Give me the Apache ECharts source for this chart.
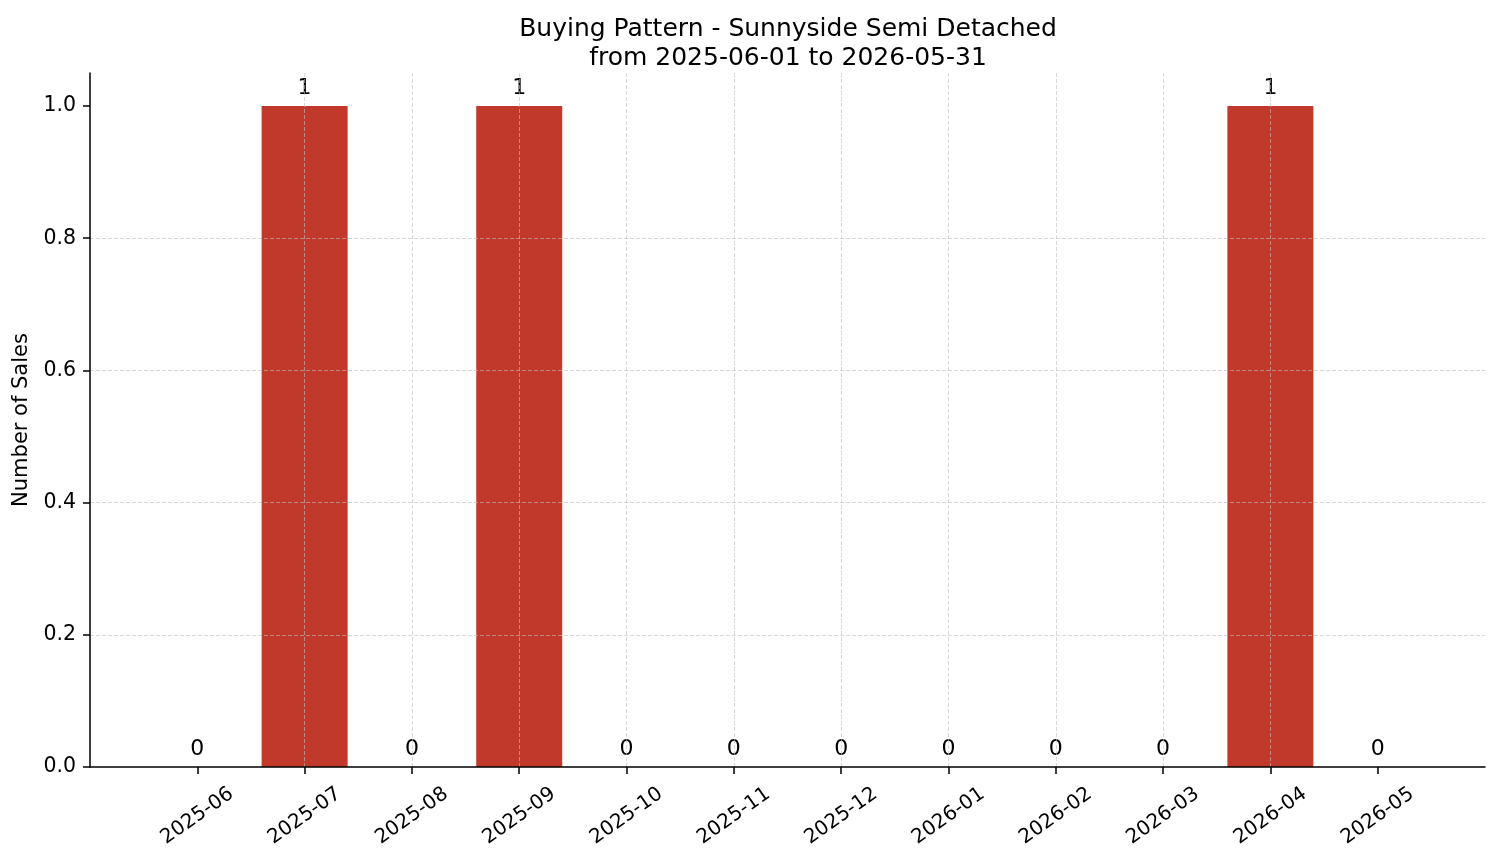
<!DOCTYPE html>
<html>
<head>
<meta charset="utf-8">
<script src="https://cdn.jsdelivr.net/npm/echarts@6/dist/echarts.min.js"></script>
<style>
html,body{margin:0;padding:0;background:#fff;}
#chart{width:1501px;height:863px;}
</style>
</head>
<body>
<div id="chart"></div>
<script>
const months = ['2025-06','2025-07','2025-08','2025-09','2025-10','2025-11','2025-12','2026-01','2026-02','2026-03','2026-04','2026-05'];
const sales = [0,1,0,1,0,0,0,0,0,0,1,0];
const yTicks = [0,0.2,0.4,0.6,0.8,1.0];
const titleText = 'Buying Pattern - Sunnyside Semi Detached\nfrom 2025-06-01 to 2026-05-31';
const yName = 'Number of Sales';

const FONT = 'DejaVu Sans';
const xIdx = months.map((m,i)=>i);
const GRID_LINE = {color:'rgba(190,190,190,0.6)',width:1,type:[4,2]};

const chart = echarts.init(document.getElementById('chart'), null, {renderer:'canvas'});
chart.setOption({
  backgroundColor:'#fff',
  animation:false,
  title:{
    text:titleText,
    left:783, top:10, textAlign:'center',
    textStyle:{fontFamily:FONT,fontSize:25,fontWeight:'normal',color:'#000',lineHeight:29}
  },
  grid:{left:90,right:16,top:73,bottom:96,containLabel:false},
  xAxis:{
    type:'value', min:-1, max:12, interval:1, z:3,
    axisLine:{show:true,onZero:false,lineStyle:{color:'#000',width:1.5}},
    axisTick:{show:true,length:7,lineStyle:{color:'#000',width:1.5},customValues:xIdx},
    axisLabel:{show:true,customValues:xIdx,rotate:35,align:'center',verticalAlign:'middle',margin:49,
      fontFamily:FONT,fontSize:20,color:'#000',
      formatter:function(v){const i=Math.round(v);return months[i]!==undefined?months[i]:'';}},
    splitLine:{show:true,showMinLine:false,showMaxLine:false,lineStyle:GRID_LINE}
  },
  yAxis:{
    type:'value', min:0, max:1.05, interval:0.2, z:3,
    name:yName, nameLocation:'middle', nameGap:56, nameRotate:90,
    nameTextStyle:{fontFamily:FONT,fontSize:21,color:'#000'},
    axisLine:{show:true,onZero:false,lineStyle:{color:'#000',width:1.5}},
    axisTick:{show:true,length:7,lineStyle:{color:'#000',width:1.5},customValues:yTicks},
    axisLabel:{show:true,customValues:yTicks,margin:14,fontFamily:FONT,fontSize:20.5,color:'#000',
      formatter:function(v){return v.toFixed(1);}},
    splitLine:{show:true,showMinLine:false,showMaxLine:false,lineStyle:GRID_LINE}
  },
  series:[{
    type:'bar',
    data:sales.map((v,i)=>[i,v]),
    barWidth:86,
    itemStyle:{color:'#c0392b'},
    label:{show:true,position:'top',distance:7,fontFamily:FONT,fontSize:22,color:'#000',
      formatter:function(p){return String(p.value[1]);}}
  }]
});
</script>
</body>
</html>
